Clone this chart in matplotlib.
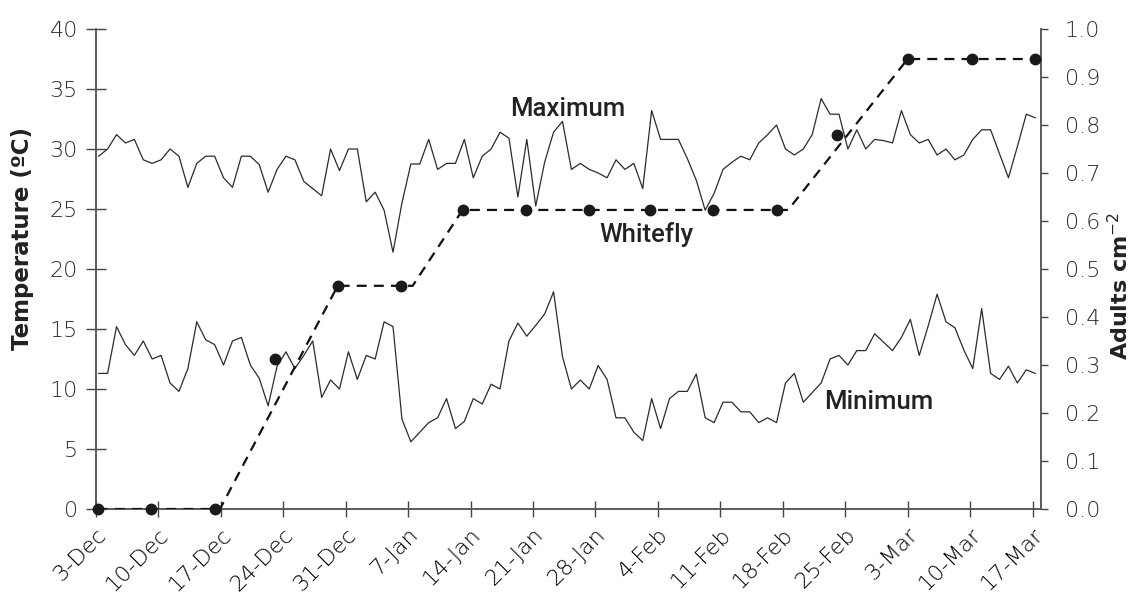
import matplotlib
matplotlib.use("Agg")
import matplotlib.pyplot as plt
from matplotlib import font_manager

# ---------------- data ----------------
tick_labels = ["3-Dec", "10-Dec", "17-Dec", "24-Dec", "31-Dec", "7-Jan", "14-Jan", "21-Jan",
               "28-Jan", "4-Feb", "11-Feb", "18-Feb", "25-Feb", "3-Mar", "10-Mar", "17-Mar"]
tick_days = [0, 7, 14, 21, 28, 35, 42, 49, 56, 63, 70, 77, 84, 91, 98, 105]

t_max = [29.4, 30.0, 31.2, 30.5, 30.8, 29.1, 28.8, 29.1, 30.0, 29.4,
         26.8, 28.8, 29.4, 29.4, 27.6, 26.8, 29.4, 29.4, 28.7, 26.4,
         28.3, 29.4, 29.1, 27.3, 26.7, 26.1, 30.0, 28.2, 30.0, 30.0,
         25.6, 26.4, 24.9, 21.4, 25.5, 28.75, 28.75, 30.8, 28.3, 28.8,
         28.8, 30.8, 27.6, 29.4, 30.0, 31.4, 30.9, 26.0, 30.8, 25.25,
         28.9, 31.4, 32.3, 28.3, 28.8, 28.3, 28.0, 27.6, 29.1, 28.3,
         28.8, 26.7, 33.2, 30.8, 30.8, 30.8, 29.2, 27.4, 24.9, 26.3,
         28.3, 28.9, 29.4, 29.1, 30.5, 31.2, 32.0, 30.0, 29.5, 30.0,
         31.2, 34.2, 32.9, 32.9, 30.0, 31.6, 30.0, 30.8, 30.7, 30.5,
         33.2, 31.2, 30.5, 30.8, 29.5, 30.0, 29.1, 29.5, 30.8, 31.6,
         31.6, 29.6, 27.6, 30.2, 32.9, 32.6]

t_min = [11.3, 11.3, 15.2, 13.7, 12.8, 14.0, 12.5, 12.8, 10.5, 9.8,
         11.7, 15.6, 14.1, 13.7, 12.0, 14.0, 14.3, 12.0, 10.9, 8.6,
         11.9, 13.1, 11.7, 12.8, 14.0, 9.3, 10.75, 10.0, 13.1, 10.8,
         12.8, 12.5, 15.6, 15.2, 7.5, 5.6, 6.4, 7.2, 7.6, 9.2,
         6.7, 7.3, 9.2, 8.75, 10.4, 10.0, 14.0, 15.5, 14.4, 15.3,
         16.25, 18.1, 12.7, 10.0, 10.75, 10.0, 11.95, 10.8, 7.6, 7.6,
         6.4, 5.7, 9.2, 6.7, 9.2, 9.8, 9.8, 11.25, 7.6, 7.2,
         8.9, 8.9, 8.1, 8.1, 7.2, 7.6, 7.2, 10.5, 11.3, 8.9,
         9.7, 10.5, 12.5, 12.8, 12.0, 13.2, 13.2, 14.6, 13.9, 13.2,
         14.3, 15.8, 12.8, 15.25, 17.9, 15.6, 15.1, 13.25, 11.7, 16.7,
         11.3, 10.8, 11.9, 10.5, 11.6, 11.3]

whitefly_days = [0.2, 6.2, 13.3, 20.1, 27.1, 34.2, 41.1, 48.2, 55.3, 62.1,
                 69.2, 76.3, 83.1, 91.0, 98.2, 105.3]
whitefly = [0.0, 0.0, 0.0, 0.3125, 0.465, 0.465, 0.623, 0.623, 0.623, 0.623,
            0.623, 0.623, 0.78, 0.9375, 0.9375, 0.9375]

trend_days = [0.2, 13.9, 27.1, 35.5, 41.1, 77.6, 91.0, 105.3]
trend_vals = [0.0, 0.0, 0.465, 0.465, 0.623, 0.623, 0.9375, 0.9375]

day_offset = 0.3
temp_days = [i + day_offset for i in range(len(t_max))]

# ---------------- style ----------------
plt.rcParams["font.family"] = ["DejaVu Sans"]
plt.rcParams["mathtext.fontset"] = "dejavusans"
avail = {f.name for f in font_manager.fontManager.ttflist}
ann_family = ["Roboto", "DejaVu Sans"] if "Roboto" in avail else ["DejaVu Sans"]
# use a lighter DejaVu face for tick labels if one is installed
tick_weight = "normal"
for f in font_manager.fontManager.ttflist:
    if f.name == "DejaVu Sans" and f.weight in (200, 300, "light", "extra light") \
            and f.style == "normal":
        tick_weight = "light"
ytick_color = "#4a4a4a" if tick_weight == "normal" else "#2a2a2a"
xtick_color = "#4a4a4a" if tick_weight == "normal" else "#000000"
text_color = "#222222"

W, H = 1133, 594
fig = plt.figure(figsize=(W / 100, H / 100), dpi=100)
ax = fig.add_axes([96 / W, 1 - 509 / H, (1041 - 96) / W, (509 - 29) / H])
ax2 = ax.twinx()

ax.plot(temp_days, t_max, color="#2b2b2b", lw=0.9, zorder=2)
ax.plot(temp_days, t_min, color="#2b2b2b", lw=0.9, zorder=2)

ax2.plot(trend_days, trend_vals, color="#111111", lw=1.6, ls=(0, (4.5, 3.2)), zorder=3)
ax2.plot(whitefly_days, whitefly, "o", color="#1a1a1a", ms=7.5, zorder=4, clip_on=False)

ax.set_xlim(0, 105.95)
ax.set_ylim(0, 40)
ax2.set_ylim(0, 1.0)

ax.set_yticks(range(0, 41, 5))
ax2.set_yticks([i / 10 for i in range(11)])
ax2.set_yticklabels([f"{i / 10:.1f}" for i in range(11)])
ax.set_xticks(tick_days)
ax.set_xticklabels(tick_labels, rotation=45, ha="right", va="top", rotation_mode="anchor")

for a in (ax, ax2):
    a.spines["top"].set_visible(False)
    for s in a.spines.values():
        s.set_color("#555555")
        s.set_linewidth(1.1)

ax.tick_params(axis="y", direction="inout", length=14, width=1, color="#444444",
               labelsize=16, labelcolor=ytick_color, pad=6)
ax.tick_params(axis="x", direction="inout", length=12, width=1, color="#444444",
               labelsize=16, labelcolor=xtick_color, pad=5)
ax2.tick_params(axis="y", direction="out", length=5, width=1, color="#444444",
                labelsize=16, labelcolor=ytick_color, pad=12)
for lbl in ax.get_xticklabels() + ax.get_yticklabels() + ax2.get_yticklabels():
    lbl.set_fontweight(tick_weight)

ax.set_ylabel("Temperature (ºC)", fontsize=16.5, fontweight="bold", color=text_color)
ax.yaxis.set_label_coords(-0.066, 0.5625)
ax2.set_ylabel("Adults cm$^{-2}$", fontsize=16, fontweight="bold", color=text_color)
ax2.yaxis.set_label_coords(1.070, 0.465)

for x, y, s in [(52.9, 32.75, "Maximum"), (61.7, 22.25, "Whitefly"), (87.8, 8.33, "Minimum")]:
    ax.text(x, y, s, fontsize=18.5, fontweight="medium", family=ann_family,
            color=text_color, ha="center", va="baseline")

fig.savefig("out.png", dpi=100)
